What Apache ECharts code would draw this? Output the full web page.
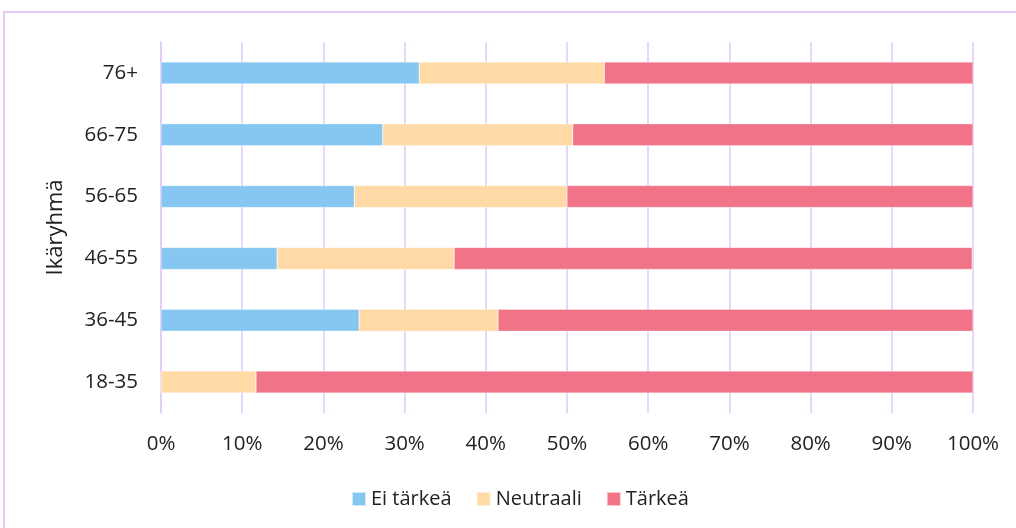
<!DOCTYPE html>
<html><head><meta charset="utf-8">
<script src="https://cdn.jsdelivr.net/npm/echarts@6/dist/echarts.min.js"></script>
<style>html,body{margin:0;padding:0;background:#fff}#c{width:1016px;height:528px}</style>
</head><body><div id="c"></div>
<script>
const categories = ['18-35','36-45','46-55','56-65','66-75','76+'];
const eiTarkea = [0, 24.4, 14.3, 23.8, 27.3, 31.8];
const neutraali = [11.7, 17.1, 21.8, 26.2, 23.4, 22.8];
const tarkea = [88.3, 58.5, 63.8, 50.0, 49.3, 45.4];
const xTicks = [0,10,20,30,40,50,60,70,80,90,100];

const chart = echarts.init(document.getElementById('c'));
const font = '"Open Sans", "Noto Sans", sans-serif';
const mk = (name, data, color) => ({
  name, type: 'bar', stack: 'all', data, barWidth: 22,
  itemStyle: { color, borderColor: 'rgba(255,255,255,0.6)', borderWidth: 0.5 }
});
chart.setOption({
  animation: false,
  textStyle: { fontFamily: font },
  graphic: [{ type: 'rect', shape: { x: 4, y: 12, width: 1100, height: 700 },
    style: { fill: 'none', stroke: '#E4C8F8', lineWidth: 2 }, z: -1 }],
  grid: { left: 161, right: 43, top: 42, bottom: 115 },
  legend: {
    top: 484, left: 346, itemWidth: 14, itemHeight: 14, itemGap: 24,
    icon: 'rect',
    textStyle: { fontSize: 20, color: '#222', fontFamily: font },
    data: ['Ei tärkeä', 'Neutraali', 'Tärkeä']
  },
  xAxis: {
    type: 'value', min: 0, max: 100, interval: 10,
    axisLabel: { formatter: v => v + '%', fontSize: 20.5, color: '#222', margin: 21 },
    splitLine: { show: true, lineStyle: { color: '#E2C8FA', width: 1.5 } },
    axisLine: { show: false }, axisTick: { show: false }
  },
  yAxis: {
    type: 'category', data: categories,
    name: 'Ikäryhmä', nameLocation: 'middle', nameGap: 94, nameRotate: 90,
    nameTextStyle: { fontSize: 22, color: '#222' },
    axisLabel: { fontSize: 20.5, color: '#222', margin: 23 },
    axisLine: { show: true, lineStyle: { color: '#E2C8FA', width: 1.5 } },
    axisTick: { show: false }
  },
  series: [
    mk('Ei tärkeä', eiTarkea, '#85C7F1'),
    mk('Neutraali', neutraali, '#FFDAA6'),
    mk('Tärkeä', tarkea, '#F17387')
  ]
});
</script></body></html>
